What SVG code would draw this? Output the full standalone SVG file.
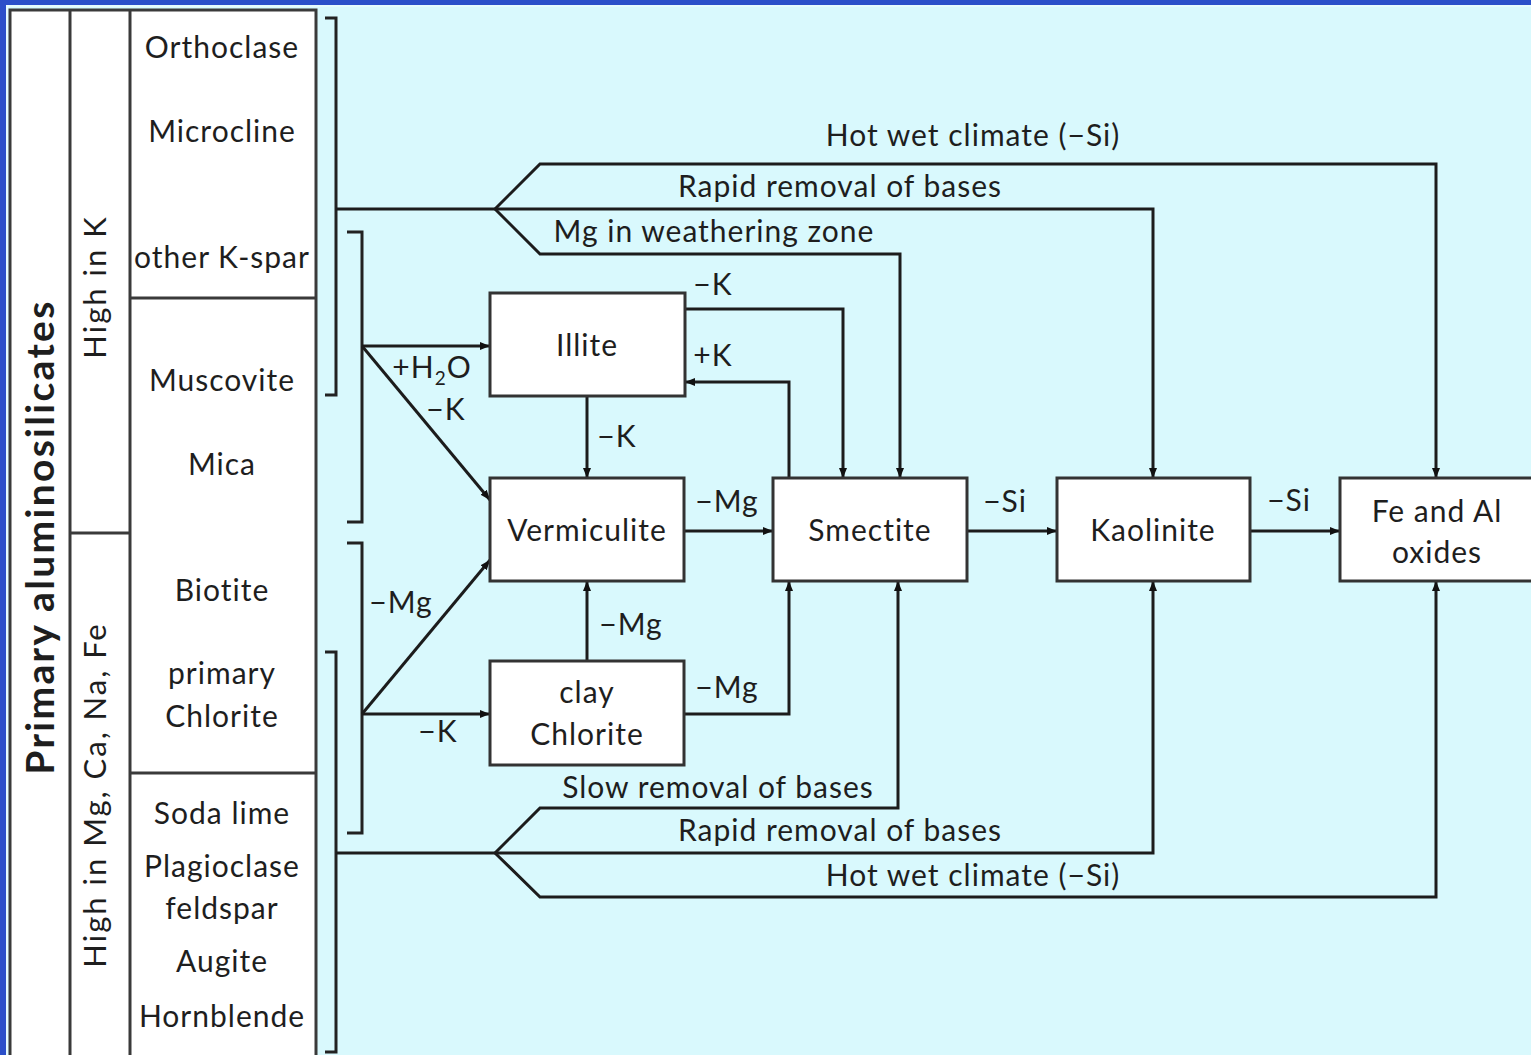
<svg xmlns="http://www.w3.org/2000/svg" width="1531" height="1055" viewBox="0 0 1531 1055">
<style>
text{font-family:Lato,"Open Sans","Liberation Sans",sans-serif;font-size:30px;letter-spacing:1px;fill:#1e1e1e;text-anchor:middle}
.tb{fill:#fff;stroke:#3a3a3a;stroke-width:3}
.box{fill:#fff;stroke:#333;stroke-width:3}
.ln{fill:none;stroke:#1c1c1c;stroke-width:3}
.br{fill:none;stroke:#222;stroke-width:3}
.ttl{font-size:39px;font-weight:bold;letter-spacing:2.3px}
.rot{font-size:31px;letter-spacing:2px}
</style>
<defs>
<marker id="ah" markerUnits="userSpaceOnUse" markerWidth="10" markerHeight="10" viewBox="0 0 10 10" refX="10" refY="5" orient="auto">
<path d="M0,1 L10,5 L0,9 Z" fill="#111"/>
</marker>
</defs>
<rect x="0" y="0" width="1531" height="1055" fill="#2b4fc9"/>
<rect x="6" y="5" width="1525" height="1050" fill="#e6fbfd"/>
<rect x="8" y="7" width="1523" height="1048" fill="#d9f9fd"/>
<g id="table">
<rect class="tb" x="10" y="10" width="306" height="1050"/>
<line class="tb" x1="70" y1="10" x2="70" y2="1055"/>
<line class="tb" x1="130" y1="10" x2="130" y2="1055"/>
<line class="tb" x1="70" y1="533" x2="130" y2="533"/>
<line class="tb" x1="130" y1="298" x2="316" y2="298"/>
<line class="tb" x1="130" y1="773" x2="316" y2="773"/>
<text class="ttl" transform="translate(54,537) rotate(-90)">Primary aluminosilicates</text>
<text class="rot" transform="translate(106,287) rotate(-90)">High in K</text>
<text class="rot" transform="translate(106,795) rotate(-90)">High in Mg, Ca, Na, Fe</text>
<text x="222" y="58">Orthoclase</text>
<text x="222" y="142">Microcline</text>
<text x="222" y="268">other K-spar</text>
<text x="222" y="391">Muscovite</text>
<text x="222" y="475">Mica</text>
<text x="222" y="601">Biotite</text>
<text x="222" y="684">primary</text>
<text x="222" y="727">Chlorite</text>
<text x="222" y="824">Soda lime</text>
<text x="222" y="877">Plagioclase</text>
<text x="222" y="919">feldspar</text>
<text x="222" y="972">Augite</text>
<text x="222" y="1027">Hornblende</text>
</g>
<g id="brackets">
<path class="br" d="M325,18 H336 V395 H325"/>
<path class="br" d="M347,232 H362 V522 H347"/>
<path class="br" d="M347,543 H362 V833 H347"/>
<path class="br" d="M325,652 H336 V1052 H325"/>
</g>
<g id="connectors">
<path class="ln" d="M336,209 H495"/>
<path class="ln" d="M495,209 L540,164 H1436 V478" marker-end="url(#ah)"/>
<path class="ln" d="M495,209 H1153 V478" marker-end="url(#ah)"/>
<path class="ln" d="M495,209 L540,254 H900 V478" marker-end="url(#ah)"/>
<path class="ln" d="M336,853 H495"/>
<path class="ln" d="M495,853 L540,808 H898 V581" marker-end="url(#ah)"/>
<path class="ln" d="M495,853 H1153 V581" marker-end="url(#ah)"/>
<path class="ln" d="M495,853 L540,897 H1436 V581" marker-end="url(#ah)"/>
<path class="ln" d="M685,309 H843 V478" marker-end="url(#ah)"/>
<path class="ln" d="M789,478 V382 H685" marker-end="url(#ah)"/>
<path class="ln" d="M587,396 V478" marker-end="url(#ah)"/>
<path class="ln" d="M362,346 H490" marker-end="url(#ah)"/>
<path class="ln" d="M362,346 L490,500" marker-end="url(#ah)"/>
<path class="ln" d="M362,714 H490" marker-end="url(#ah)"/>
<path class="ln" d="M362,714 L490,560" marker-end="url(#ah)"/>
<path class="ln" d="M587,661 V581" marker-end="url(#ah)"/>
<path class="ln" d="M684,714 H789 V581" marker-end="url(#ah)"/>
<path class="ln" d="M684,531 H773" marker-end="url(#ah)"/>
<path class="ln" d="M967,531 H1057" marker-end="url(#ah)"/>
<path class="ln" d="M1250,531 H1340" marker-end="url(#ah)"/>
<text x="973" y="146">Hot wet climate (−Si)</text>
<text x="840" y="197">Rapid removal of bases</text>
<text x="714" y="242">Mg in weathering zone</text>
<text x="713" y="295">−K</text>
<text x="713" y="366">+K</text>
<text x="617" y="447">−K</text>
<text x="432" y="378">+H<tspan font-size="19" dy="7">2</tspan><tspan dy="-7">O</tspan></text>
<text x="446" y="420">−K</text>
<text x="727" y="512">−Mg</text>
<text x="1005" y="512">−Si</text>
<text x="1289" y="511">−Si</text>
<text x="401" y="613">−Mg</text>
<text x="631" y="635">−Mg</text>
<text x="727" y="698">−Mg</text>
<text x="438" y="742">−K</text>
<text x="718" y="798">Slow removal of bases</text>
<text x="840" y="841">Rapid removal of bases</text>
<text x="973" y="886">Hot wet climate (−Si)</text>
</g>
<g id="illite"><rect class="box" x="490" y="293" width="195" height="103"/><text x="587" y="356">Illite</text></g>
<g id="vermiculite"><rect class="box" x="490" y="478" width="194" height="103"/><text x="587" y="541">Vermiculite</text></g>
<g id="clay-chlorite"><rect class="box" x="490" y="661" width="194" height="104"/><text x="587" y="703">clay</text><text x="587" y="745">Chlorite</text></g>
<g id="smectite"><rect class="box" x="773" y="478" width="194" height="103"/><text x="870" y="541">Smectite</text></g>
<g id="kaolinite"><rect class="box" x="1057" y="478" width="193" height="103"/><text x="1153" y="541">Kaolinite</text></g>
<g id="oxides"><rect class="box" x="1340" y="478" width="200" height="103"/><text x="1437" y="522">Fe and Al</text><text x="1437" y="563">oxides</text></g>
</svg>
